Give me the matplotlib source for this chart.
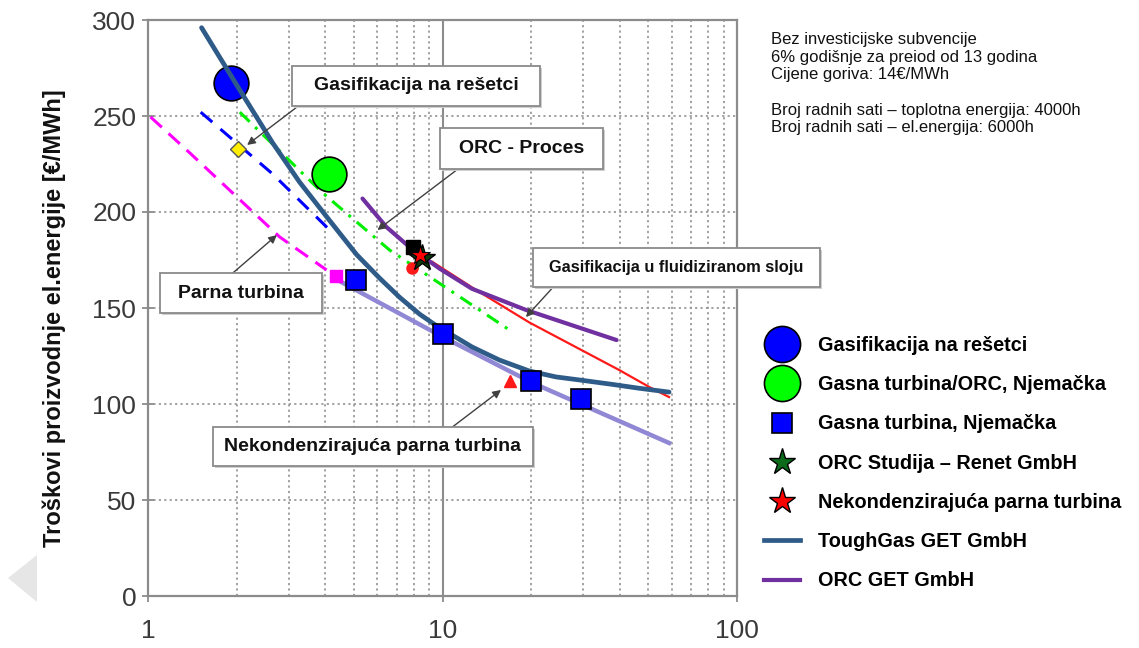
import matplotlib.pyplot as plt
from matplotlib.lines import Line2D
from matplotlib.patches import Polygon, Rectangle
import numpy as np

plt.rcParams["font.family"] = ["Liberation Sans", "DejaVu Sans"]

W, H = 1139, 648

# ToughGas GET GmbH curve
tough_x = [1.52, 2.05, 2.65, 3.27, 4.14, 5.11, 6.12, 7.16, 8.36, 9.78, 11.2, 12.6,
           15.6, 19.7, 24.3, 29.9, 37.8, 46.5, 58.8]
tough_y = [296, 263.5, 236, 215.6, 195.5, 177.8, 165.5, 155.5, 146.8, 139.6, 134.4,
           129.7, 122.9, 117.2, 114.1, 112.3, 110.2, 108.2, 106.2]

# lavender trend through gas turbine points
lav_x = [4.23, 10.0, 20.2, 58.8]
lav_y = [166, 135, 111, 79.7]

# ORC GET GmbH
orc_x = [5.35, 6.45, 7.72, 9.78, 12.6, 19.2, 39.0]
orc_y = [207, 192.2, 181.8, 170.5, 160, 149, 133.3]

# red line (non-condensing steam turbine)
red_x = [9.24, 13.0, 19.7, 39.8, 50.3, 58.8]
red_y = [174, 159.4, 142.5, 117.7, 108.9, 103.6]

# dashed lines
blue_dash_x = [1.51, 2.65, 4.14]
blue_dash_y = [252, 219.8, 190.6]
green_dash_x = [2.05, 3.92, 6.61, 16.9]
green_dash_y = [252, 209.9, 180.2, 138.5]
mag_dash_x = [1.02, 1.388, 2.80, 4.04]
mag_dash_y = [249.5, 230.7, 187, 169.8]

# points
gas_grate = (1.91, 267)
gas_orc = (4.11, 220)
gt_x = [5.07, 10.0, 19.9, 29.6]
gt_y = [164.6, 136.5, 112, 102.6]
diamond = (2.02, 233)
mag_sq = (4.34, 166.7)
red_tri = (16.9, 112)
black_sq = (7.97, 182)
red_circ = (7.85, 171)
orc_star = (8.5, 176)
nek_star = (8.36, 177.6)

fig = plt.figure(figsize=(W / 100, H / 100), dpi=100)
ax = fig.add_axes([148 / W, 52 / H, 589 / W, 576 / H])
ax.set_xscale("log")
ax.set_xlim(1, 100)
ax.set_ylim(0, 300)

grid_c = "#9a9a9a"
ax.set_yticks([0, 50, 100, 150, 200, 250, 300])
ax.set_xticks([1, 10, 100])
ax.set_xticklabels(["1", "10", "100"])
ax.grid(which="minor", axis="x", ls=(0, (1.2, 1.8)), color=grid_c, lw=1.3)
ax.grid(which="major", axis="y", ls=(0, (1.2, 1.8)), color=grid_c, lw=1.3)
ax.axvline(10, color="#8c8c8c", lw=1.5, zorder=1)
for s in ax.spines.values():
    s.set_color("#8c8c8c")
    s.set_linewidth(1.6)
ax.tick_params(axis="both", which="major", direction="inout", length=9,
               color="#8c8c8c", width=1.3, labelsize=19, labelcolor="#3a3a3a")
ax.tick_params(axis="y", which="major", pad=4)
ax.tick_params(axis="x", which="major", pad=12)
ax.tick_params(axis="x", which="minor", length=0)
ax.set_ylabel("Troškovi proizvodnje el.energije [€/MWh]", fontsize=17,
              fontweight="bold", color="#111111")
ax.yaxis.set_label_coords(-0.14, 0.483)

# dashed lines
ax.plot(mag_dash_x, mag_dash_y, color="#ff00ff", lw=2.2, ls=(0, (5, 3)), zorder=3)
ax.plot(blue_dash_x, blue_dash_y, color="#0000ff", lw=2.2, ls=(0, (5, 3.5)), zorder=3)
ax.plot(green_dash_x, green_dash_y, color="#00ee00", lw=2.2,
        ls=(0, (4.5, 2.5, 1, 2.5)), zorder=3)

# lines
ax.plot(lav_x, lav_y, color="#9088d4", lw=3.2, zorder=3)
ax.plot(red_x, red_y, color="#ff1a1a", lw=1.6, zorder=4)
ax.plot(orc_x, orc_y, color="#7030a0", lw=3.0, zorder=4, solid_capstyle="round")
ax.plot(tough_x, tough_y, color="#2e5b88", lw=3.4, zorder=5,
        solid_joinstyle="round", solid_capstyle="round")

# markers
ax.plot(*black_sq, marker="s", ms=10, color="black", zorder=6)
ax.plot(*red_circ, marker="o", ms=8, color="#ff1a1a", zorder=6)
ax.plot(*orc_star, marker="*", ms=20, color="#0b3b0b", mec="black", zorder=6)
ax.plot(*nek_star, marker="*", ms=15, color="#ff0000", mec="black", mew=0.8, zorder=7)
ax.plot(*gas_grate, marker="o", ms=25, color="#0000ff", mec="black", mew=1.2, zorder=4)
ax.plot(*gas_orc, marker="o", ms=25, color="#00ff00", mec="black", mew=1.2, zorder=6)
ax.plot(gt_x, gt_y, ls="none", marker="s", ms=14.5, color="#0000ff", mec="black",
        mew=1.2, zorder=6)
ax.plot(*diamond, marker="D", ms=8, color="#ffee00", mec="#555555", zorder=6)
ax.plot(*mag_sq, marker="s", ms=8.5, color="#ff00ff", mec="#ff00ff", zorder=6)
ax.plot(*red_tri, marker="^", ms=8, color="#ff1a1a", zorder=6)

# annotation boxes: text, box (x0, y0, x1, y1) in pixels, font size, arrow start, arrow end
notes = [
    ("Gasifikacija na rešetci", (292, 66, 540, 106), 14, (3.27, 255.7), (2.17, 234.9)),
    ("ORC - Proces", (440, 128, 603, 169), 14, (11.4, 222.9), (6.01, 190.6)),
    ("Gasifikacija u fluidiziranom sloju", (533, 248, 820, 287), 11.8, (23.6, 160.4), (19.2, 145.3)),
    ("Parna turbina", (160, 273, 322, 313), 14, (1.94, 168.2), (2.74, 188)),
    ("Nekondenzirajuća parna turbina", (213, 427, 533, 466), 14, (10.8, 88), (15.8, 107.3)),
]
for txt, (x0, y0, x1, y1), fs, start, end in notes:
    ax.annotate("", xy=end, xytext=start,
                arrowprops=dict(arrowstyle="-|>", color="#404040", lw=1.0,
                                mutation_scale=12, shrinkA=0, shrinkB=0),
                zorder=8, annotation_clip=False)
    fig.patches.append(Rectangle(((x0 + 2) / W, 1 - (y1 + 2) / H), (x1 - x0) / W,
                                 (y1 - y0) / H, transform=fig.transFigure,
                                 fc="#cfcfcf", ec="none", zorder=9))
    fig.patches.append(Rectangle((x0 / W, 1 - y1 / H), (x1 - x0) / W, (y1 - y0) / H,
                                 transform=fig.transFigure, fc="white",
                                 ec="#8a8a8a", lw=1.3, zorder=10))
    fig.text((x0 + x1) / 2 / W, 1 - (y0 + y1) / 2 / H, txt, fontsize=fs,
             fontweight="bold", ha="center", va="center", color="#111111", zorder=11)

# info text
fig.text(771 / W, 1 - 32 / H,
         "Bez investicijske subvencije\n6% godišnje za preiod od 13 godina\n"
         "Cijene goriva: 14€/MWh\n\n"
         "Broj radnih sati – toplotna energija: 4000h\n"
         "Broj radnih sati – el.energija: 6000h",
         fontsize=12, va="top", ha="left", linespacing=1.22, color="#111111")

# legend
handles = [
    Line2D([], [], ls="none", marker="o", ms=26, color="#0000ff", mec="black", mew=1.2),
    Line2D([], [], ls="none", marker="o", ms=26, color="#00ff00", mec="black", mew=1.2),
    Line2D([], [], ls="none", marker="s", ms=14, color="#0000ff", mec="black", mew=1.2),
    Line2D([], [], ls="none", marker="*", ms=20, color="#0b6b1b", mec="black", mew=1.0),
    Line2D([], [], ls="none", marker="*", ms=20, color="#ff0000", mec="black", mew=1.0),
    Line2D([], [], color="#2e5b88", lw=3.4),
    Line2D([], [], color="#7030a0", lw=3.0),
]
names = ["Gasifikacija na rešetci", "Gasna turbina/ORC, Njemačka",
         "Gasna turbina, Njemačka", "ORC Studija – Renet GmbH",
         "Nekondenzirajuća parna turbina", "ToughGas GET GmbH", "ORC GET GmbH"]
fig.legend(handles, names, loc="upper left", bbox_to_anchor=(756 / W, 1 - 328 / H),
           frameon=False, prop=dict(size=14.3, weight="bold"), handlelength=1.8,
           handletextpad=0.9, labelspacing=1.02, borderaxespad=0)

# grey side arrow
fig.patches.append(Polygon([[8 / W, 1 - 578 / H], [37 / W, 1 - 555 / H],
                            [37 / W, 1 - 602 / H]], closed=True,
                           transform=fig.transFigure, fc="#e6e6e6", ec="none"))

fig.savefig("out.png", dpi=100)
